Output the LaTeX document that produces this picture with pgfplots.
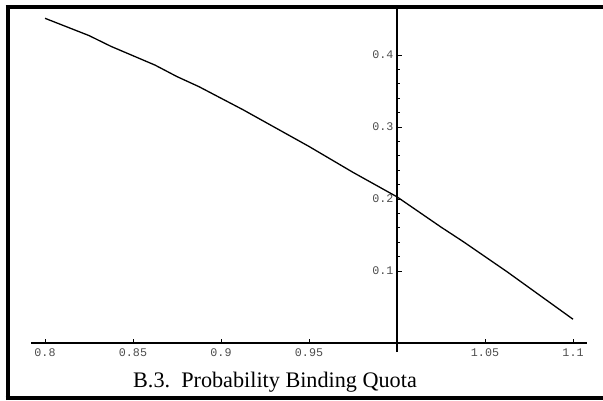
\documentclass[border=0pt]{standalone}
\usepackage{fontspec}
\setmainfont{Liberation Serif}
\newfontfamily\monofont{Liberation Mono}
\usepackage{pgfplots}
\pgfplotsset{compat=1.18}

% probability that the quota binds, against the quota level
\pgfplotstableread{
x       p
0.8000  0.451
0.8125  0.439
0.8250  0.427
0.8375  0.412
0.8500  0.399
0.8625  0.386
0.8750  0.370
0.8875  0.356
0.9000  0.340
0.9125  0.324
0.9250  0.307
0.9375  0.290
0.9500  0.273
0.9625  0.255
0.9750  0.237
0.9875  0.220
1.0000  0.203
1.0125  0.182
1.0250  0.161
1.0375  0.141
1.0500  0.120
1.0625  0.099
1.0750  0.077
1.0875  0.055
1.1000  0.033
}\quota

\begin{document}
\begin{tikzpicture}[x=1bp,y=1bp]
  \useasboundingbox (0,0) rectangle (603,400);
  % frame
  \draw[line width=4bp] (7.5,0) -- (7.5,395);
  \draw[line width=4bp] (5.5,393) -- (603,393);
  \draw[line width=4bp] (5.5,2) -- (603,2);
  \begin{axis}[
    at={(31bp,48bp)}, anchor=south west,
    scale only axis, width=556bp, height=344bp,
    axis lines=middle,
    axis line style={-, line width=1.2bp},
    xmin=-0.20795, xmax=0.10795,
    ymin=-0.0125, ymax=0.4653,
    x filter/.expression={x-1},
    xtick={-0.2,-0.15,-0.1,-0.05,0.05,0.1},
    xticklabels={0.8,0.85,0.9,0.95,1.05,1.1},
    ytick={0.1,0.2,0.3,0.4},
    yticklabels={0.1,0.2,0.3,0.4},
    minor x tick num=4, minor y tick num=4,
    tick align=inside,
    major tick length=4.5bp, minor tick length=3bp,
    tick style={line width=0.9bp, black},
    /pgf/number format/assume math mode=true,
    ticklabel style={font=\monofont\fontsize{11.7bp}{12bp}\selectfont, text=black!70},
    xticklabel style={yshift=-2bp},
    clip=false,
  ]
    \addplot[line width=1.3bp, black] table[x=x, y=p] {\quota};
  \end{axis}
  \node[anchor=base, inner sep=0pt] at (275,13) {\fontsize{22.2bp}{26bp}\selectfont B.3.\ \ Probability Binding Quota};
\end{tikzpicture}
\end{document}
